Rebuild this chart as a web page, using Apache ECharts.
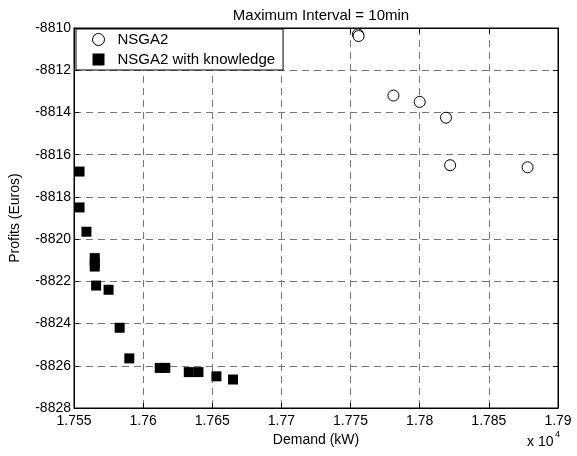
<!DOCTYPE html>
<html>
<head>
<meta charset="utf-8">
<script src="https://cdn.jsdelivr.net/npm/echarts@6.0.0/dist/echarts.min.js"></script>
<style>
  html, body { margin: 0; padding: 0; background: #fff; }
  #chart { width: 577px; height: 456px; }
</style>
</head>
<body>
<div id="chart"></div>
<script>
// demand in kW, profits in Euros
const nsga2Demand = [17755.3, 17755.8, 17781, 17800, 17819, 17822, 17878];
const nsga2Profit = [-8810.3, -8810.38, -8813.2, -8813.5, -8814.25, -8816.5, -8816.6];

const knowDemand = [17554, 17554, 17559, 17565, 17565, 17565, 17566, 17575, 17583, 17590, 17612, 17616, 17633, 17640, 17653, 17665];
const knowProfit = [-8816.8, -8818.5, -8819.65, -8820.9, -8821.1, -8821.3, -8822.2, -8822.4, -8824.2, -8825.65, -8826.1, -8826.1, -8826.3, -8826.3, -8826.5, -8826.65];

const xMin = 17550, xMax = 17900, xStep = 50;
const yMin = -8828, yMax = -8810, yStep = 2;

const font = '"Liberation Sans", Arial, sans-serif';

const pairs = (xs, ys) => xs.map((x, i) => [x, ys[i]]);

const chart = echarts.init(document.getElementById('chart'));

const baseX = {
  type: 'value', min: xMin, max: xMax, interval: xStep,
  axisLine: { show: true, lineStyle: { color: '#000', width: 1 } },
  axisTick: { show: true, inside: true, length: 5, lineStyle: { color: '#000' } }
};
const baseY = {
  type: 'value', min: yMin, max: yMax, interval: yStep,
  axisLine: { show: true, lineStyle: { color: '#000', width: 1 } },
  axisTick: { show: true, inside: true, length: 5, lineStyle: { color: '#000' } }
};

chart.setOption({
  animation: false,
  title: {
    text: 'Maximum Interval = 10min',
    left: 316, top: 3, textAlign: 'center',
    textStyle: { fontFamily: font, fontSize: 15, fontWeight: 'normal', color: '#000' }
  },
  grid: { left: 74, right: 19, top: 28, bottom: 48, show: true, borderColor: '#000', borderWidth: 1 },
  legend: {
    left: 76, top: 29, orient: 'vertical',
    backgroundColor: '#fff', borderColor: '#000', borderWidth: 1,
    padding: [3, 8, 3, 16], itemGap: 5, itemWidth: 12, itemHeight: 12,
    itemStyle: { borderWidth: 1 },
    textStyle: { fontFamily: font, fontSize: 15, color: '#000', padding: [0, 0, 0, 8] },
    data: ['NSGA2', 'NSGA2 with knowledge']
  },
  xAxis: [
    Object.assign({}, baseX, {
      position: 'bottom',
      name: 'Demand (kW)', nameLocation: 'middle', nameGap: 22,
      nameTextStyle: { fontFamily: font, fontSize: 14, color: '#000' },
      axisLabel: {
        fontFamily: font, fontSize: 14, color: '#000', margin: 6,
        formatter: v => String(parseFloat((v / 10000).toFixed(4)))
      },
      splitLine: { show: true, lineStyle: { color: '#777', type: [7, 5], width: 1 } }
    }),
    Object.assign({}, baseX, { position: 'top', axisLabel: { show: false }, splitLine: { show: false } })
  ],
  yAxis: [
    Object.assign({}, baseY, {
      position: 'left',
      name: 'Profits (Euros)', nameLocation: 'middle', nameGap: 52,
      nameTextStyle: { fontFamily: font, fontSize: 14, color: '#000' },
      axisLabel: { fontFamily: font, fontSize: 14, color: '#000', margin: 3, formatter: v => String(v) },
      splitLine: { show: true, lineStyle: { color: '#777', type: [7, 5], width: 1 } }
    }),
    Object.assign({}, baseY, { position: 'right', axisLabel: { show: false }, splitLine: { show: false } })
  ],
  graphic: [
    { type: 'text', left: 527, top: 435,
      style: { text: 'x 10', font: '14px ' + font, fill: '#000' } },
    { type: 'text', left: 555, top: 430,
      style: { text: '4', font: '9px ' + font, fill: '#000' } }
  ],
  series: [
    {
      name: 'NSGA2', type: 'scatter', xAxisIndex: 0, yAxisIndex: 0, clip: false,
      symbol: 'circle', symbolSize: 11,
      itemStyle: { color: '#fff', borderColor: '#000', borderWidth: 1, opacity: 1 },
      data: pairs(nsga2Demand, nsga2Profit)
    },
    {
      name: 'NSGA2 with knowledge', type: 'scatter', xAxisIndex: 0, yAxisIndex: 0, clip: false,
      symbol: 'rect', symbolSize: 10,
      itemStyle: { color: '#000', opacity: 1 },
      data: pairs(knowDemand, knowProfit)
    }
  ]
});
</script>
</body>
</html>
